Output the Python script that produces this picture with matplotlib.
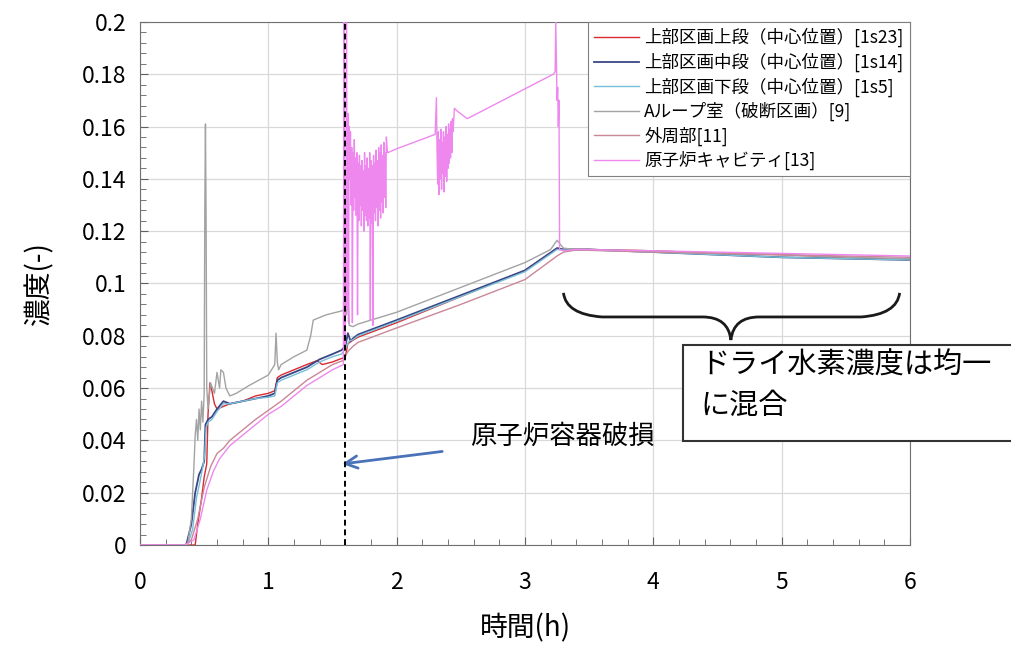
import numpy as np
import matplotlib
matplotlib.use("Agg")
import matplotlib.pyplot as plt
from matplotlib.path import Path
from matplotlib.patches import PathPatch, Rectangle
from matplotlib.ticker import MultipleLocator

plt.rcParams['font.family'] = ['Noto Sans CJK JP', 'DejaVu Sans']

# ---- data ----
labels = [
    "上部区画上段（中心位置）[1s23]",
    "上部区画中段（中心位置）[1s14]",
    "上部区画下段（中心位置）[1s5]",
    "Aループ室（破断区画）[9]",
    "外周部[11]",
    "原子炉キャビティ[13]",
]
colors = ["#d92a2f", "#3a4585", "#78bfd8", "#a3a3a3", "#c98797", "#ee88ee"]

t_upper = [0, 0.43, 0.45, 0.48, 0.50, 0.52, 0.53, 0.545, 0.56, 0.58, 0.60, 0.65, 0.70, 0.80, 0.90,
           1.00, 1.05, 1.07, 1.10, 1.20, 1.30, 1.38, 1.42, 1.50, 1.58, 1.60, 1.62, 1.65, 1.70, 2.00,
           2.50, 3.00, 3.25, 3.30, 3.50, 4.00, 4.50, 5.00, 5.50, 6.00]
c_upper = [0, 0, 0.008, 0.018, 0.026, 0.031, 0.050, 0.062, 0.059, 0.054, 0.052, 0.053, 0.054, 0.055,
           0.057, 0.058, 0.059, 0.064, 0.065, 0.067, 0.069, 0.0705, 0.069, 0.070, 0.0715, 0.072, 0.077,
           0.078, 0.0795, 0.085, 0.095, 0.105, 0.1135, 0.113, 0.113, 0.1125, 0.1115, 0.111, 0.110, 0.109]

t_middle = [0, 0.36, 0.40, 0.43, 0.46, 0.48, 0.50, 0.51, 0.53, 0.56, 0.60, 0.65, 0.70, 0.80, 0.90,
            1.00, 1.05, 1.07, 1.10, 1.20, 1.30, 1.40, 1.50, 1.57, 1.60, 1.62, 1.64, 1.66, 1.70, 2.00,
            2.50, 3.00, 3.25, 3.30, 3.50, 4.00, 4.50, 5.00, 5.50, 6.00]
c_middle = [0, 0, 0.008, 0.020, 0.027, 0.029, 0.032, 0.046, 0.048, 0.049, 0.052, 0.055, 0.054, 0.055,
            0.056, 0.057, 0.058, 0.063, 0.064, 0.066, 0.068, 0.071, 0.073, 0.0745, 0.076, 0.081, 0.078,
            0.079, 0.0805, 0.086, 0.0955, 0.105, 0.1135, 0.113, 0.113, 0.112, 0.111, 0.110, 0.1095, 0.109]

t_lower = [0, 0.37, 0.41, 0.44, 0.47, 0.49, 0.505, 0.515, 0.53, 0.56, 0.60, 0.65, 0.70, 0.80, 0.90,
           1.00, 1.05, 1.07, 1.10, 1.20, 1.30, 1.40, 1.50, 1.57, 1.60, 1.63, 1.66, 1.70, 2.00, 2.50,
           3.00, 3.25, 3.30, 3.50, 4.00, 4.50, 5.00, 5.50, 6.00]
c_lower = [0, 0, 0.006, 0.018, 0.025, 0.030, 0.035, 0.045, 0.047, 0.048, 0.051, 0.054, 0.054, 0.055,
           0.056, 0.0565, 0.057, 0.062, 0.063, 0.065, 0.067, 0.070, 0.072, 0.073, 0.075, 0.078, 0.0785,
           0.080, 0.0855, 0.095, 0.1045, 0.1130, 0.1128, 0.1128, 0.112, 0.111, 0.110, 0.1095, 0.109]

t_aloop = [0, 0.37, 0.40, 0.42, 0.43, 0.44, 0.45, 0.46, 0.47, 0.48, 0.49, 0.50, 0.505, 0.51, 0.515,
           0.52, 0.53, 0.55, 0.58, 0.60, 0.62, 0.63, 0.65, 0.67, 0.70, 0.75, 0.85, 1.00, 1.05, 1.06,
           1.07, 1.08, 1.10, 1.20, 1.30, 1.33, 1.35, 1.45, 1.57, 1.59, 1.60, 1.61, 1.62, 1.63, 1.66,
           1.70, 2.00, 2.50, 3.00, 3.20, 3.25, 3.30, 3.40, 4.00, 4.50, 5.00, 5.50, 6.00]
c_aloop = [0, 0, 0.010, 0.030, 0.042, 0.048, 0.040, 0.052, 0.044, 0.055, 0.047, 0.058, 0.130, 0.161,
           0.125, 0.060, 0.052, 0.062, 0.058, 0.066, 0.060, 0.067, 0.066, 0.060, 0.057, 0.058, 0.061,
           0.065, 0.069, 0.081, 0.070, 0.067, 0.069, 0.072, 0.0745, 0.080, 0.086, 0.088, 0.0895, 0.090,
           0.102, 0.088, 0.098, 0.084, 0.0835, 0.0845, 0.089, 0.0985, 0.108, 0.113, 0.1165, 0.1135,
           0.113, 0.1125, 0.1115, 0.111, 0.110, 0.1095]

t_outer = [0, 0.35, 0.40, 0.45, 0.50, 0.55, 0.60, 0.65, 0.70, 0.80, 0.90, 1.00, 1.10, 1.20, 1.30,
           1.40, 1.50, 1.58, 1.62, 1.66, 1.70, 2.00, 2.50, 3.00, 3.25, 3.30, 3.40, 4.00, 4.50, 5.00,
           5.50, 6.00]
c_outer = [0, 0, 0.002, 0.010, 0.022, 0.030, 0.035, 0.037, 0.040, 0.044, 0.048, 0.0515, 0.055, 0.059,
           0.063, 0.066, 0.069, 0.0705, 0.074, 0.076, 0.0775, 0.083, 0.092, 0.1015, 0.1105, 0.112,
           0.1128, 0.112, 0.1115, 0.111, 0.1105, 0.1100]

# reactor cavity: smooth part, then the oscillating bursts after vessel failure
t_cav_a = [0, 0.35, 0.42, 0.47, 0.52, 0.57, 0.62, 0.70, 0.80, 0.90, 1.00, 1.10, 1.20, 1.30, 1.40,
           1.50, 1.585, 1.59, 1.595, 1.600, 1.610, 1.615, 1.620, 1.625, 1.630]
c_cav_a = [0, 0, 0.002, 0.010, 0.021, 0.028, 0.033, 0.038, 0.042, 0.046, 0.050, 0.053, 0.057, 0.061,
           0.064, 0.067, 0.069, 0.200, 0.075, 0.080, 0.200, 0.090, 0.165, 0.085, 0.160]
burst1 = [0.140, 0.158, 0.130, 0.152, 0.085, 0.150, 0.128, 0.155, 0.133, 0.148,
          0.126, 0.150, 0.088, 0.146, 0.124, 0.149, 0.130, 0.145, 0.122, 0.147,
          0.128, 0.143, 0.120, 0.150, 0.126, 0.145, 0.124, 0.148, 0.122, 0.144,
          0.125, 0.150, 0.086, 0.147, 0.123, 0.145, 0.084, 0.149, 0.127, 0.146,
          0.124, 0.151, 0.129, 0.147, 0.122, 0.152, 0.128, 0.150, 0.125, 0.153,
          0.131, 0.149, 0.127, 0.154, 0.133, 0.150, 0.129, 0.156, 0.152]
t_cav_b = [1.930, 2.00, 2.30, 2.31]
c_cav_b = [0.150, 0.1515, 0.157, 0.171]
burst2 = [0.150, 0.138, 0.158, 0.134, 0.155, 0.140, 0.159, 0.136, 0.154, 0.142,
          0.158, 0.135, 0.156, 0.141, 0.160, 0.139, 0.157, 0.144, 0.161, 0.146,
          0.159, 0.148, 0.162, 0.150, 0.163, 0.158]
t_cav_c = [2.45, 2.47, 2.55, 3.22, 3.235, 3.24, 3.25, 3.255, 3.26, 3.265, 3.27, 3.30, 3.40, 4.00,
           4.50, 5.00, 5.50, 6.00]
c_cav_c = [0.167, 0.166, 0.163, 0.180, 0.181, 0.200, 0.170, 0.175, 0.160, 0.170, 0.113, 0.1125,
           0.113, 0.1125, 0.112, 0.1115, 0.111, 0.1105]

t_cavity = (t_cav_a + list(np.arange(1.635, 1.926, 0.005)[:len(burst1)]) + t_cav_b
            + list(np.arange(2.315, 2.441, 0.005)[:len(burst2)]) + t_cav_c)
c_cavity = c_cav_a + burst1 + c_cav_b + burst2 + c_cav_c

series = [(t_upper, c_upper), (t_middle, c_middle), (t_lower, c_lower),
          (t_aloop, c_aloop), (t_outer, c_outer), (t_cavity, c_cavity)]

vessel_failure_h = 1.6

# ---- figure ----
fig = plt.figure(figsize=(10.11, 6.45), dpi=100)
ax = fig.add_axes([0.1385, 0.155, 0.7615, 0.811])

draw_order = [3, 4, 5, 2, 0, 1]
lines = {}
for i in draw_order:
    t, c = series[i]
    lw = 1.3 if i == 1 else 1.0
    lines[i], = ax.plot(t, c, color=colors[i], lw=lw, label=labels[i], zorder=3 + i * 0.1)

ax.axvline(vessel_failure_h, color="black", ls=(0, (3, 2)), lw=1.4, zorder=5)

ax.set_xlim(0, 6)
ax.set_ylim(0, 0.2)
ax.xaxis.set_major_locator(MultipleLocator(1))
ax.xaxis.set_minor_locator(MultipleLocator(0.2))
ax.yaxis.set_minor_locator(MultipleLocator(0.004))
ax.set_yticks(np.arange(0, 0.201, 0.02))
ax.set_yticklabels(["0", "0.02", "0.04", "0.06", "0.08", "0.1", "0.12", "0.14", "0.16", "0.18", "0.2"])
ax.tick_params(which="both", direction="in", labelsize=16.5, color="#606060")
ax.tick_params(which="major", length=6)
ax.tick_params(which="minor", length=4)
ax.tick_params(axis="x", pad=19)
ax.tick_params(axis="y", pad=10)
ax.grid(True, which="major", color="#d9d9d9", lw=0.9)
ax.set_axisbelow(True)
for s in ax.spines.values():
    s.set_color("#707070")

ax.set_xlabel("時間(h)", fontsize=20, labelpad=14)
ax.set_ylabel("濃度(-)", fontsize=20, labelpad=20)

leg = ax.legend([lines[i] for i in range(6)], labels, loc="upper right", borderaxespad=0,
                fancybox=False, edgecolor="#808080", framealpha=1, fontsize=12.6,
                handlelength=2.6, handletextpad=0.3, labelspacing=0.3, borderpad=0.35)
leg.get_frame().set_linewidth(0.8)

# vessel failure annotation
ax.annotate("原子炉容器破損", xy=(1.575, 0.031), xytext=(2.57, 0.0415),
            fontsize=19, va="center", ha="left",
            arrowprops=dict(arrowstyle="->", color="#4a72b8", lw=2,
                            shrinkA=18, shrinkB=0, mutation_scale=22))

# curly brace over the well-mixed period
xl, xc, xr = 3.30, 4.605, 5.92
y_end, y_mid, y_tip = 0.0964, 0.0872, 0.0784
verts = [(xl, y_end), (xl + 0.02, y_mid + 0.001), (xl + 0.3, y_mid),
         (xc - 0.22, y_mid),
         (xc - 0.02, y_mid), (xc, y_tip),
         (xc + 0.02, y_mid), (xc + 0.22, y_mid),
         (xr - 0.3, y_mid),
         (xr - 0.02, y_mid + 0.001), (xr, y_end)]
codes = [Path.MOVETO, Path.CURVE3, Path.CURVE3,
         Path.LINETO,
         Path.CURVE3, Path.CURVE3,
         Path.CURVE3, Path.CURVE3,
         Path.LINETO,
         Path.CURVE3, Path.CURVE3]
ax.add_patch(PathPatch(Path(verts, codes), fill=False, lw=2, color="#1a1a1a", zorder=6))

# text box (runs off the right edge like the original slide)
fig.patches.append(Rectangle((683 / 1011, 1 - 441 / 645), 0.34, 96 / 645, transform=fig.transFigure,
                             facecolor="white", edgecolor="#333333", lw=1.5, zorder=10))
fig.text(700 / 1011, 1 - 366 / 645, "ドライ水素濃度は均一", fontsize=21, va="center", ha="left",
         zorder=11)
fig.text(700 / 1011, 1 - 406 / 645, "に混合", fontsize=21, va="center", ha="left", zorder=11)

fig.savefig("out.png", dpi=100)
